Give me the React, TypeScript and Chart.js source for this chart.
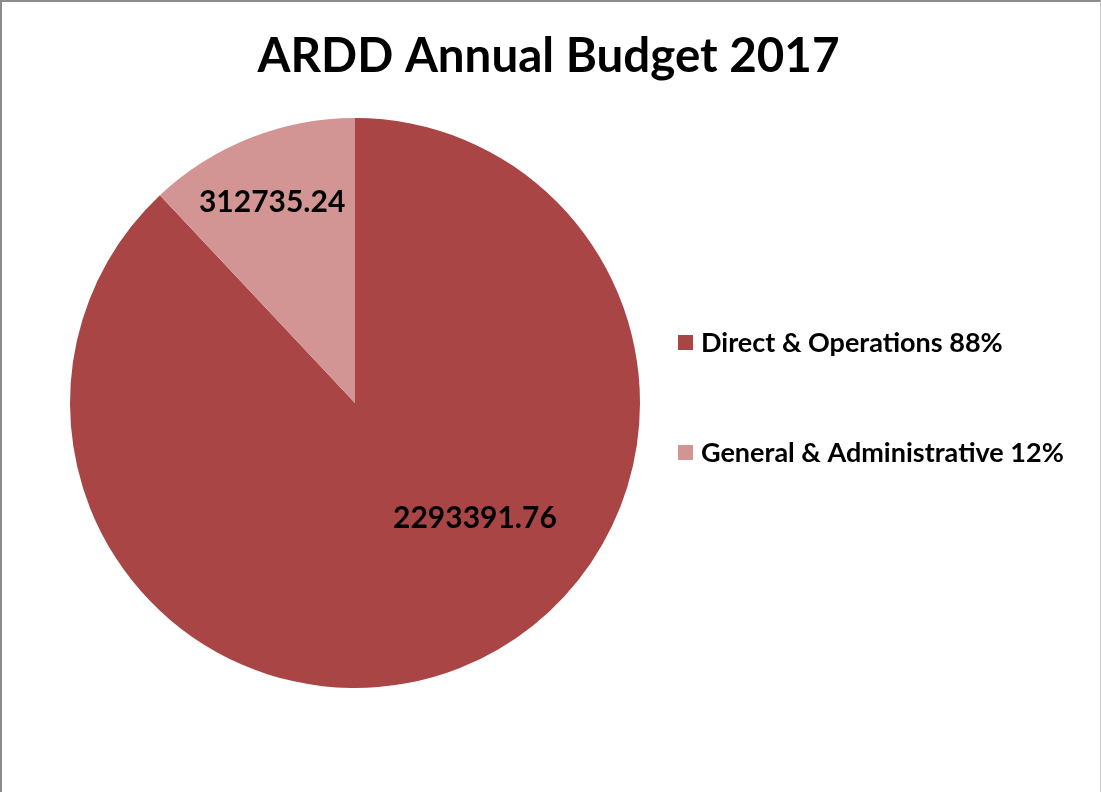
import React, { useEffect, useRef } from "react";
import { Chart, registerables } from "chart.js";

Chart.register(...registerables);

const titleText = "ARDD Annual Budget 2017";
const categories = ["Direct & Operations", "General & Administrative"];
const values = [2293391.76, 312735.24];
const sliceColors = ["#A94545", "#D39494"];
// label placement inside slice: angle (deg, canvas coords) and fraction of radius
const labelAngles = [43.8, -112.4];
const labelRadii = [0.583, 0.763];

const FONT = "Lato, 'Open Sans', sans-serif";

const labelPlugin = {
  id: "sliceLabels",
  afterDatasetsDraw(chart: any) {
    const ctx = chart.ctx;
    const meta = chart.getDatasetMeta(0);
    ctx.save();
    ctx.font = `bold 30px ${FONT}`;
    ctx.fillStyle = "#000";
    ctx.textAlign = "center";
    ctx.textBaseline = "middle";
    meta.data.forEach((arc: any, i: number) => {
      const a = (labelAngles[i] * Math.PI) / 180;
      const r = arc.outerRadius * labelRadii[i];
      const x = arc.x + Math.cos(a) * r;
      const y = arc.y + Math.sin(a) * r;
      ctx.fillText(String(values[i]), x, y);
    });
    ctx.restore();
  },
};

// title centred on the whole canvas, side legend drawn from the chart's own labels and colours
const frameTextPlugin = {
  id: "frameText",
  afterDraw(chart: any) {
    const ctx = chart.ctx;
    const area = chart.chartArea;
    ctx.save();
    ctx.font = `bold 47.5px ${FONT}`;
    ctx.fillStyle = "#000";
    ctx.textAlign = "center";
    ctx.textBaseline = "alphabetic";
    ctx.fillText(titleText, chart.width / 2 - 2.5, 70);

    const labels: string[] = chart.data.labels;
    const colors: string[] = chart.data.datasets[0].backgroundColor;
    const cy = (area.top + area.bottom) / 2;
    const boxX = area.right + 38;
    const startY = cy - 61;
    const gap = 110;
    ctx.font = `bold 27px ${FONT}`;
    ctx.textBaseline = "middle";
    ctx.textAlign = "left";
    labels.forEach((lab, i) => {
      const y = startY + i * gap;
      ctx.fillStyle = colors[i];
      ctx.fillRect(boxX, y - 7, 15, 15);
      ctx.fillStyle = "#000";
      ctx.fillText(lab, boxX + 23, y + 1);
    });
    ctx.restore();
  },
};

export default function App() {
  const ref = useRef<HTMLCanvasElement>(null);
  useEffect(() => {
    document.body.style.margin = "0";
    const total = values.reduce((a, b) => a + b, 0);
    const labels = categories.map(
      (c, i) => `${c} ${Math.round((values[i] / total) * 100)}%`
    );
    const chart = new Chart(ref.current!, {
      type: "pie",
      data: {
        labels,
        datasets: [
          {
            data: values,
            backgroundColor: sliceColors,
            borderWidth: 0,
          },
        ],
      },
      options: {
        responsive: false,
        animation: false,
        layout: { padding: { left: 68, right: 460, top: 116, bottom: 104 } },
        plugins: {
          title: { display: false },
          legend: { display: false },
          tooltip: { enabled: false },
        },
      },
      plugins: [labelPlugin, frameTextPlugin],
    });
    return () => chart.destroy();
  }, []);
  return (
    <div
      style={{
        width: 1101,
        height: 792,
        boxSizing: "border-box",
        borderTop: "2px solid #8c8c8c",
        borderLeft: "2px solid #8c8c8c",
        borderRight: "1px solid #c8c8c8",
        background: "#fff",
        overflow: "hidden",
      }}
    >
      <canvas ref={ref} width={1098} height={790} style={{ display: "block" }} />
    </div>
  );
}
